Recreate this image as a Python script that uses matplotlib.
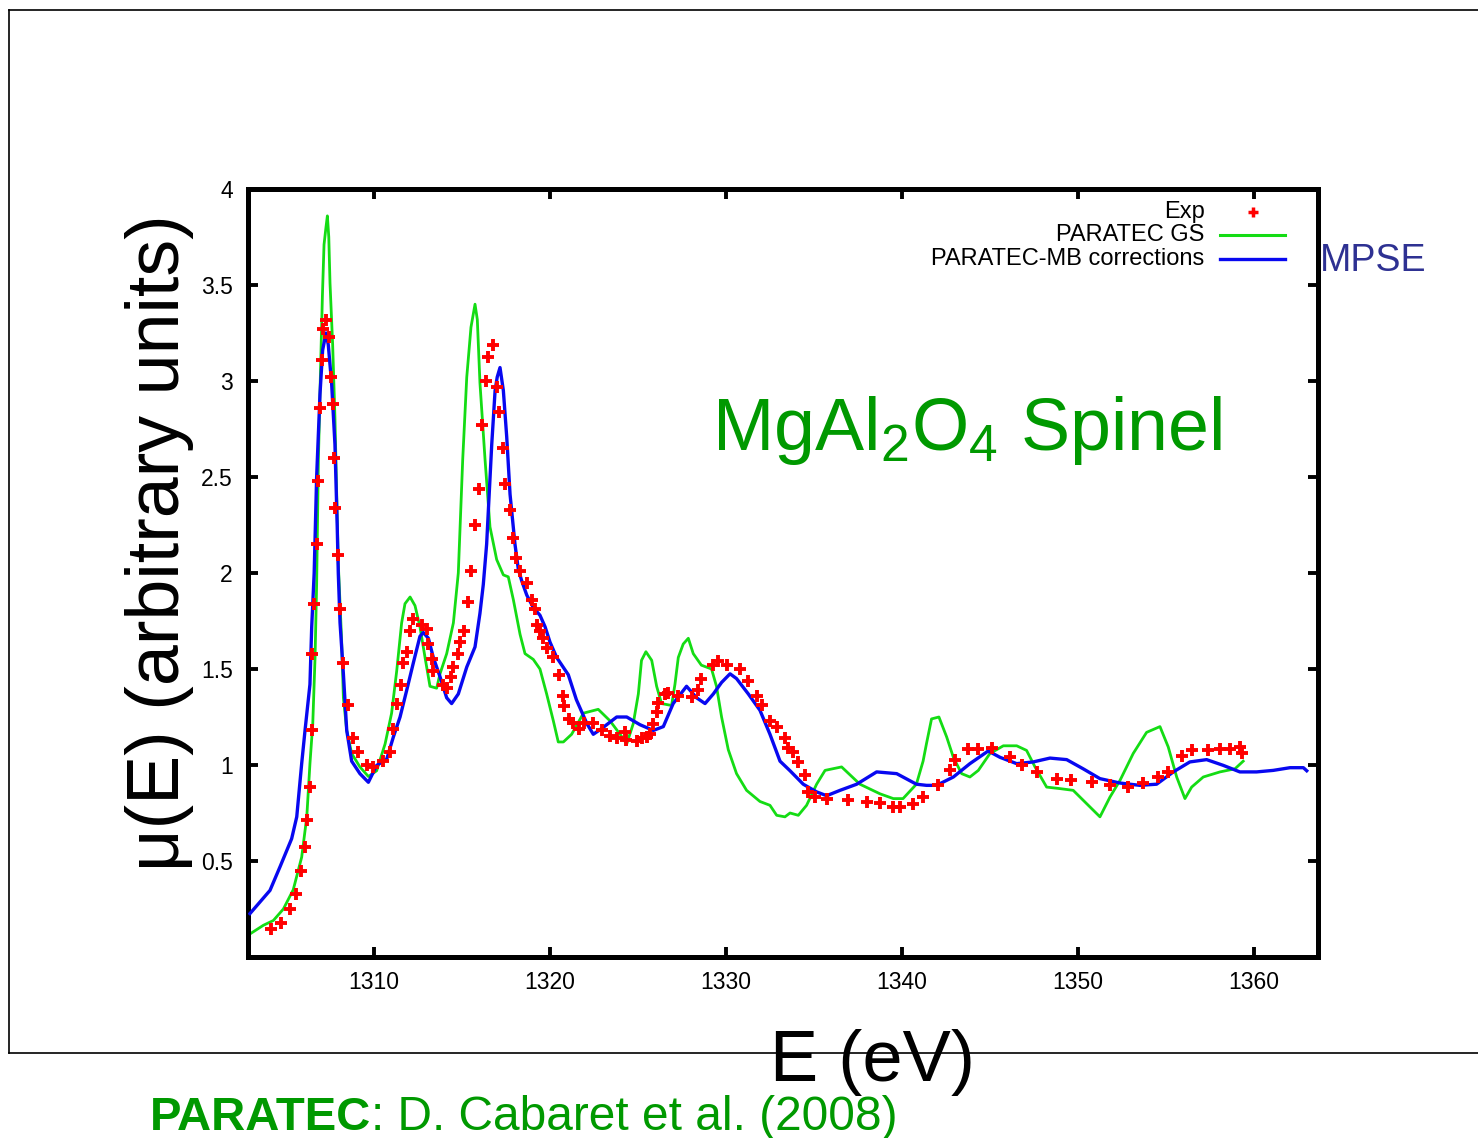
import matplotlib
matplotlib.use("Agg")
import matplotlib.pyplot as plt
from matplotlib.lines import Line2D

plt.rcParams['font.family'] = ['Liberation Sans', 'DejaVu Sans']
plt.rcParams['mathtext.default'] = 'regular'

# Mg K-edge XANES of MgAl2O4 spinel
exp_E = [1304.15, 1304.70, 1305.23, 1305.55, 1305.85, 1306.08, 1306.18, 1306.36, 1306.46,
         1306.50, 1306.60, 1306.74, 1306.84, 1306.93, 1307.03, 1307.12, 1307.27, 1307.46,
         1307.54, 1307.65, 1307.74, 1307.80, 1307.97, 1308.07, 1308.26, 1308.54, 1308.83,
         1309.11, 1309.58, 1309.96, 1310.49, 1310.90, 1311.10, 1311.33, 1311.52, 1311.67,
         1311.86, 1312.05, 1312.20, 1312.70, 1312.99, 1313.08, 1313.28, 1313.37, 1313.90,
         1314.13, 1314.36, 1314.51, 1314.79, 1314.89, 1315.13, 1315.32, 1315.49, 1315.74,
         1315.98, 1316.12, 1316.36, 1316.50, 1316.74, 1316.97, 1317.12, 1317.35, 1317.44,
         1317.73, 1317.92, 1318.07, 1318.30, 1318.68, 1318.96, 1319.15, 1319.24, 1319.43,
         1319.62, 1319.81, 1320.19, 1320.50, 1320.72, 1320.80, 1321.10, 1321.32, 1321.67,
         1321.95, 1322.42, 1322.94, 1323.41, 1323.79, 1324.26, 1324.32, 1324.96, 1325.20,
         1325.49, 1325.68, 1325.87, 1326.06, 1326.16, 1326.53, 1326.72, 1327.29, 1328.05,
         1328.43, 1328.60, 1329.28, 1329.56, 1330.04, 1330.80, 1331.27, 1331.74, 1332.03,
         1332.50, 1332.88, 1333.35, 1333.54, 1333.83, 1334.11, 1334.49, 1334.68, 1335.06,
         1335.72, 1336.95, 1337.99, 1338.75, 1339.51, 1339.89, 1340.65, 1341.18, 1342.07,
         1342.73, 1343.01, 1343.77, 1344.34, 1345.10, 1346.14, 1346.80, 1347.65, 1348.79,
         1349.59, 1350.78, 1351.82, 1352.86, 1353.68, 1354.56, 1355.13, 1355.89, 1356.46,
         1357.41, 1358.07, 1358.64, 1359.20, 1359.30]
exp_mu = [0.147, 0.177, 0.25, 0.326, 0.45, 0.573, 0.715, 0.885, 1.18,
          1.58, 1.84, 2.15, 2.48, 2.86, 3.11, 3.27, 3.32, 3.23,
          3.02, 2.88, 2.60, 2.34, 2.095, 1.81, 1.53, 1.31, 1.14,
          1.07, 1.00, 0.99, 1.02, 1.07, 1.19, 1.32, 1.415, 1.53,
          1.59, 1.70, 1.76, 1.73, 1.71, 1.63, 1.55, 1.49, 1.415,
          1.40, 1.46, 1.51, 1.58, 1.64, 1.70, 1.85, 2.01, 2.25,
          2.44, 2.77, 3.00, 3.125, 3.19, 2.97, 2.84, 2.65, 2.465,
          2.33, 2.18, 2.08, 2.01, 1.95, 1.86, 1.81, 1.73, 1.70,
          1.66, 1.61, 1.56, 1.47, 1.36, 1.305, 1.24, 1.22, 1.19,
          1.22, 1.22, 1.18, 1.15, 1.14, 1.17, 1.13, 1.125, 1.14,
          1.145, 1.16, 1.215, 1.275, 1.325, 1.37, 1.375, 1.36, 1.355,
          1.39, 1.45, 1.52, 1.54, 1.52, 1.50, 1.44, 1.36, 1.31,
          1.23, 1.20, 1.14, 1.09, 1.07, 1.015, 0.946, 0.86, 0.833,
          0.825, 0.816, 0.807, 0.80, 0.78, 0.78, 0.795, 0.833, 0.894,
          0.972, 1.024, 1.085, 1.085, 1.09, 1.04, 0.998, 0.964, 0.929,
          0.924, 0.911, 0.894, 0.885, 0.906, 0.9375, 0.964, 1.045, 1.076,
          1.076, 1.085, 1.085, 1.094, 1.06]

gs_E = [1302.95, 1303.71, 1304.28, 1304.85, 1305.41, 1305.89, 1306.18, 1306.36, 1306.52,
        1306.65, 1306.74, 1306.84, 1306.97, 1307.07, 1307.16, 1307.27, 1307.35, 1307.43,
        1307.50, 1307.65, 1307.78, 1307.88, 1307.97, 1308.16, 1308.26, 1308.45, 1308.73,
        1309.20, 1309.68, 1310.15, 1310.63, 1311.00, 1311.29, 1311.57, 1311.76, 1312.05,
        1312.33, 1312.61, 1312.90, 1313.18, 1313.56, 1313.75, 1314.13, 1314.51, 1314.79,
        1315.04, 1315.27, 1315.51, 1315.74, 1315.87, 1316.02, 1316.31, 1316.59, 1316.97,
        1317.35, 1317.63, 1317.92, 1318.30, 1318.58, 1319.05, 1319.43, 1319.81, 1320.19,
        1320.47, 1320.76, 1321.23, 1321.90, 1322.74, 1323.41, 1323.98, 1324.36, 1324.73,
        1325.02, 1325.20, 1325.45, 1325.78, 1326.06, 1326.34, 1326.91, 1327.10, 1327.29,
        1327.57, 1327.86, 1328.14, 1328.60, 1329.18, 1329.46, 1329.75, 1330.13, 1330.60,
        1331.17, 1331.93, 1332.50, 1332.88, 1333.35, 1333.64, 1334.11, 1334.58, 1335.15,
        1335.63, 1336.57, 1337.61, 1338.75, 1339.51, 1340.06, 1340.82, 1341.20, 1341.39,
        1341.68, 1342.10, 1342.54, 1342.92, 1343.39, 1343.86, 1344.34, 1345.00, 1345.76,
        1346.52, 1347.08, 1347.56, 1348.22, 1348.98, 1349.73, 1350.30, 1351.25, 1351.82,
        1352.39, 1353.14, 1353.90, 1354.66, 1355.13, 1355.61, 1356.08, 1356.46, 1357.12,
        1358.07, 1358.92, 1359.39]
gs_mu = [0.12, 0.165, 0.19, 0.25, 0.35, 0.52, 0.73, 1.007, 1.215,
         1.56, 1.94, 2.59, 3.09, 3.45, 3.71, 3.80, 3.86, 3.75,
         3.51, 3.19, 2.81, 2.41, 2.05, 1.65, 1.35, 1.18, 1.06,
         0.99, 0.94, 0.97, 1.11, 1.27, 1.49, 1.74, 1.84, 1.875,
         1.83, 1.72, 1.56, 1.41, 1.40, 1.475, 1.58, 1.74, 2.00,
         2.59, 3.02, 3.28, 3.40, 3.32, 2.99, 2.59, 2.24, 2.07,
         1.99, 1.98, 1.86, 1.68, 1.58, 1.55, 1.50, 1.37, 1.23,
         1.12, 1.12, 1.16, 1.27, 1.29, 1.23, 1.16, 1.11, 1.215,
         1.37, 1.545, 1.59, 1.545, 1.41, 1.32, 1.31, 1.42, 1.56,
         1.63, 1.66, 1.58, 1.52, 1.50, 1.41, 1.25, 1.08, 0.955,
         0.868, 0.81, 0.79, 0.738, 0.73, 0.75, 0.738, 0.79, 0.90,
         0.972, 0.99, 0.90, 0.85, 0.825, 0.825, 0.90, 1.02, 1.11,
         1.24, 1.25, 1.146, 1.04, 0.955, 0.9375, 0.972, 1.06, 1.10,
         1.10, 1.076, 0.99, 0.885, 0.877, 0.868, 0.816, 0.73, 0.833,
         0.92, 1.06, 1.17, 1.20, 1.094, 0.9375, 0.825, 0.885, 0.9375,
         0.964, 0.98, 1.02]

mb_E = [1302.95, 1304.09, 1304.66, 1305.32, 1305.61, 1305.89, 1306.08, 1306.36, 1306.46,
        1306.60, 1306.74, 1306.93, 1307.08, 1307.27, 1307.40, 1307.59, 1307.78, 1307.91,
        1307.97, 1308.07, 1308.26, 1308.45, 1308.73, 1309.20, 1309.68, 1310.15, 1310.72,
        1311.10, 1311.48, 1311.86, 1312.23, 1312.61, 1312.80, 1313.09, 1313.37, 1313.75,
        1314.13, 1314.41, 1314.79, 1315.27, 1315.74, 1316.02, 1316.21, 1316.40, 1316.50,
        1316.69, 1316.88, 1317.00, 1317.16, 1317.35, 1317.54, 1317.73, 1318.01, 1318.20,
        1318.39, 1318.68, 1319.05, 1319.43, 1319.72, 1320.00, 1320.38, 1321.04, 1321.50,
        1322.10, 1322.46, 1322.94, 1323.79, 1324.36, 1325.11, 1325.87, 1326.44, 1327.00,
        1327.76, 1328.33, 1328.81, 1329.28, 1329.75, 1330.23, 1330.60, 1331.27, 1331.93,
        1332.50, 1333.07, 1333.64, 1334.39, 1335.15, 1335.72, 1336.48, 1337.43, 1338.56,
        1339.70, 1340.82, 1341.39, 1341.97, 1342.92, 1343.86, 1344.90, 1345.57, 1346.52,
        1347.46, 1348.41, 1349.36, 1350.30, 1351.25, 1352.39, 1353.52, 1354.47, 1355.42,
        1356.36, 1357.31, 1358.26, 1359.20, 1360.15, 1361.10, 1362.05, 1362.81, 1363.00]
mb_mu = [0.226, 0.347, 0.47, 0.616, 0.73, 1.007, 1.18, 1.42, 1.72,
         2.00, 2.50, 2.93, 3.16, 3.25, 3.19, 2.99, 2.67, 2.24,
         2.00, 1.74, 1.475, 1.18, 1.02, 0.955, 0.91, 0.998, 1.03,
         1.146, 1.25, 1.39, 1.53, 1.67, 1.69, 1.66, 1.56, 1.46,
         1.35, 1.32, 1.37, 1.51, 1.615, 1.79, 1.94, 2.15, 2.33,
         2.67, 2.95, 3.02, 3.07, 2.95, 2.71, 2.41, 2.15, 2.02,
         1.96, 1.885, 1.82, 1.78, 1.72, 1.64, 1.56, 1.47, 1.34,
         1.215, 1.16, 1.19, 1.25, 1.25, 1.21, 1.18, 1.20, 1.32,
         1.41, 1.35, 1.32, 1.37, 1.43, 1.475, 1.45, 1.37, 1.285,
         1.16, 1.02, 0.97, 0.90, 0.86, 0.84, 0.868, 0.90, 0.964,
         0.955, 0.90, 0.894, 0.894, 0.9375, 1.007, 1.073, 1.04, 1.007,
         1.016, 1.036, 1.028, 0.98, 0.929, 0.906, 0.894, 0.90, 0.964,
         1.016, 1.028, 0.998, 0.964, 0.964, 0.972, 0.986, 0.986, 0.97]

series_labels = ["Exp", "PARATEC GS", "PARATEC-MB corrections"]
x_ticks = [1310, 1320, 1330, 1340, 1350, 1360]
y_ticks = [0.5, 1, 1.5, 2, 2.5, 3, 3.5, 4]
y_tick_labels = ["0.5", "1", "1.5", "2", "2.5", "3", "3.5", "4"]

RED = "#ff0000"
GREEN = "#14dc14"
BLUE = "#0808f0"

W, H = 1478, 1138
fig = plt.figure(figsize=(W / 100, H / 100), dpi=100)

# slide frame
frame_kw = dict(color="black", lw=1.2, transform=fig.transFigure)
fig.add_artist(Line2D([9 / W, 9 / W], [1 - 10 / H, 1 - 1053 / H], **frame_kw))
fig.add_artist(Line2D([9 / W, 1.0], [1 - 10 / H, 1 - 10 / H], **frame_kw))
fig.add_artist(Line2D([9 / W, 1.0], [1 - 1053 / H, 1 - 1053 / H], **frame_kw))

ax = fig.add_axes([248 / W, 1 - 957 / H, 1070 / W, 768 / H])
ax.plot(gs_E, gs_mu, color=GREEN, lw=2.0, zorder=2)
ax.plot(mb_E, mb_mu, color=BLUE, lw=2.4, zorder=3)
ax.plot(exp_E, exp_mu, linestyle="none", marker="+", ms=9, mew=2.8, color=RED, zorder=4)

ax.set_xlim(1302.84, 1363.64)
ax.set_ylim(0, 4)
ax.set_xticks(x_ticks)
ax.set_xticklabels([str(t) for t in x_ticks])
ax.set_yticks(y_ticks)
ax.set_yticklabels(y_tick_labels)
for s in ax.spines.values():
    s.set_linewidth(3.6)
ax.tick_params(direction="in", length=7, width=2.8, top=True, right=True,
               labelsize=16.5, colors="black")
ax.tick_params(axis="x", pad=10)
ax.tick_params(axis="y", pad=11)

# key, gnuplot style: right-aligned text with sample on the right
tx, s0, s1, sm = 0.894, 0.908, 0.969, 0.939
rows = [0.970, 0.940, 0.909]
key_fs = 17
ax.text(tx, rows[0], series_labels[0], transform=ax.transAxes, ha="right", va="center", fontsize=key_fs)
ax.plot([sm], [rows[0]], transform=ax.transAxes, marker="+", ms=7, mew=2.5, color=RED, clip_on=False)
ax.text(tx, rows[1], series_labels[1], transform=ax.transAxes, ha="right", va="center", fontsize=key_fs)
ax.plot([s0, s1], [rows[1], rows[1]], transform=ax.transAxes, color=GREEN, lw=2.2)
ax.text(tx, rows[2], series_labels[2], transform=ax.transAxes, ha="right", va="center", fontsize=key_fs)
ax.plot([s0, s1], [rows[2], rows[2]], transform=ax.transAxes, color=BLUE, lw=2.4)

# annotations
fig.text(712 / W, 1 - 450 / H, r"MgAl$_2$O$_4$ Spinel", color="#009900", fontsize=53,
         ha="left", va="baseline")
fig.text(1320 / W, 1 - 271 / H, "MPSE", color="#2e3192", fontsize=27, ha="left", va="baseline")
fig.text(160 / W, 1 - 543 / H, "μ(E) (arbitrary units)", rotation=90, fontsize=53,
         ha="center", va="center")
fig.text(872 / W, 1 - 1081 / H, "E (eV)", fontsize=52, ha="center", va="baseline")
fig.text(150 / W, 1 - 1130 / H, "PARATEC", color="#009900", fontsize=34, fontweight="bold",
         ha="left", va="baseline")
fig.text(371 / W, 1 - 1130 / H, ": D. Cabaret et al. (2008)", color="#009900", fontsize=34.5,
         ha="left", va="baseline")

fig.savefig("out.png", dpi=100)
